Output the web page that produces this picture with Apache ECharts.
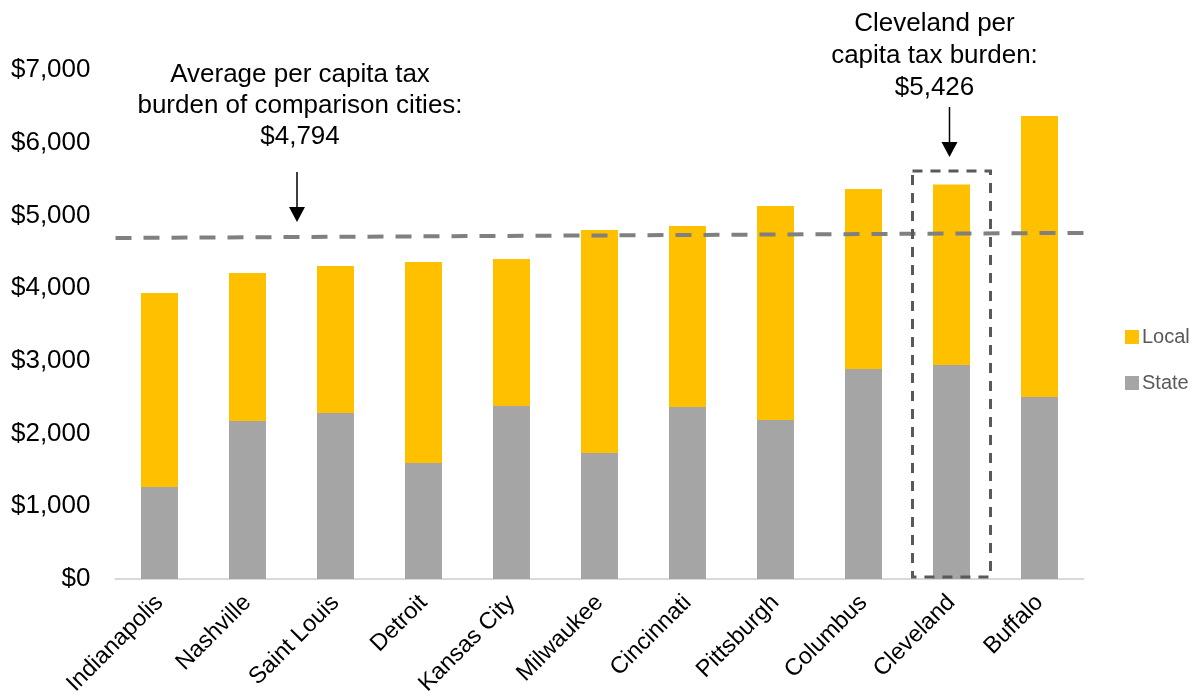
<!DOCTYPE html>
<html>
<head>
<meta charset="utf-8">
<script src="https://cdn.jsdelivr.net/npm/echarts@6/dist/echarts.min.js"></script>
<style>html,body{margin:0;padding:0;background:#fff}#c{width:1200px;height:698px}</style>
</head>
<body>
<div id="c"></div>
<script>
const categories = ['Indianapolis','Nashville','Saint Louis','Detroit','Kansas City','Milwaukee','Cincinnati','Pittsburgh','Columbus','Cleveland','Buffalo'];
const stateValues = [1265,2173,2283,1596,2380,1733,2366,2187,2889,2944,2503];
const localValues = [2669,2036,2022,2764,2022,3068,2490,2944,2476,2482,3866];
const avgLineX = [0, 1];
const avgLineY = [4690, 4760];
const yTicks = [0,1000,2000,3000,4000,5000,6000,7000];
const avgText = ['Average per capita tax','burden of comparison cities:','$4,794'];
const clevelandText = ['Cleveland per','capita tax burden:','$5,426'];
const highlightCity = 'Cleveland';
const highlightBoxTop = 5610;

const FONT = '"Liberation Sans", Arial, sans-serif';
const chart = echarts.init(document.getElementById('c'), null, {renderer:'canvas'});

const option = {
  animation: false,
  backgroundColor: '#ffffff',
  textStyle: {fontFamily: FONT},
  grid: {left: 115.5, right: 116.5, top: 70, bottom: 119, containLabel: false, outerBoundsMode: 'none'},
  legend: {
    orient: 'vertical', left: 1120, top: 322,
    data: ['Local','State'],
    itemWidth: 14, itemHeight: 14, itemGap: 26,
    icon: 'rect',
    textStyle: {fontSize: 20, color: '#595959', fontFamily: FONT, padding:[0,0,0,-2]}
  },
  xAxis: [{
    type: 'category', data: categories,
    axisLine: {show: true, lineStyle: {color: '#d9d9d9', width: 2}},
    axisTick: {show: false},
    axisLabel: {rotate: 45, fontSize: 23.5, color: '#000', margin: 20, interval: 0, fontFamily: FONT}
  },{
    type: 'value', min: avgLineX[0], max: avgLineX[1], show: false
  }],
  yAxis: {
    type: 'value', min: yTicks[0], max: yTicks[yTicks.length-1], interval: 1000,
    axisLine: {show: false}, axisTick: {show: false}, splitLine: {show: false},
    axisLabel: {fontSize: 26, color: '#000', margin: 25, fontFamily: FONT,
      formatter: v => '$' + v.toLocaleString('en-US')}
  },
  series: [
    {name: 'State', type: 'bar', stack: 'total', data: stateValues, barWidth: 37,
     itemStyle: {color: '#a5a5a5'}},
    {name: 'Local', type: 'bar', stack: 'total', data: localValues, barWidth: 37,
     itemStyle: {color: '#ffc000'}},
    {name: 'Average', type: 'line', xAxisIndex: 1, symbol: 'none', silent: true,
     data: avgLineX.map((x,i) => [x, avgLineY[i]]),
     lineStyle: {color: '#808080', width: 4, type: [16,12], cap: 'butt'}, z: 5}
  ]
};
chart.setOption(option);

const cx = chart.convertToPixel({xAxisIndex: 0}, highlightCity);
const yTop = chart.convertToPixel({yAxisIndex: 0}, highlightBoxTop);
const yZero = chart.convertToPixel({yAxisIndex: 0}, 0);
const avgX = 297;

function arrow(x, y1, y2) {
  return [
    {type:'line', shape:{x1:x, y1:y1, x2:x, y2:y2-14}, style:{stroke:'#000', lineWidth:1.5}, z:10},
    {type:'polygon', shape:{points:[[x-8,y2-15],[x+8,y2-15],[x,y2]]}, style:{fill:'#000'}, z:10}
  ];
}

chart.setOption({
  graphic: [
    {type:'text', x: 300, y: 59, z:10,
     style:{text: avgText.join('\n'), font: '26px ' + FONT, fill:'#000', align:'center', verticalAlign:'top', lineHeight: 31}},
    {type:'text', x: cx - 17, y: 8, z:10,
     style:{text: clevelandText.join('\n'), font: '26px ' + FONT, fill:'#000', align:'center', verticalAlign:'top', lineHeight: 32}},
    ...arrow(avgX, 172, 222),
    ...arrow(cx - 2, 107, 157),
    {type:'rect', shape:{x: cx - 39, y: yTop, width: 78, height: yZero - yTop - 2}, z: 10,
     style:{fill:'none', stroke:'#595959', lineWidth: 3, lineDash:[10,8]}}
  ]
});
</script>
</body>
</html>
